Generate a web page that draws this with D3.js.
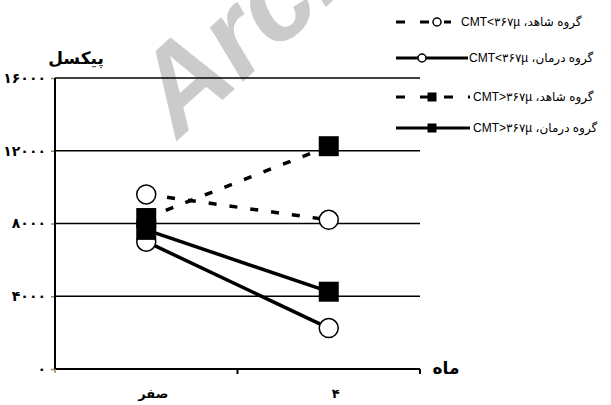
<!DOCTYPE html>
<html>
<head>
<meta charset="utf-8">
<script src="https://cdn.jsdelivr.net/npm/d3@7"></script>
<style>
  html, body { margin: 0; padding: 0; background: #fff; }
  svg { display: block; }
  .fa { font-family: "DejaVu Sans", sans-serif; }
  .legend text { font-family: "Liberation Sans", "DejaVu Sans", sans-serif; font-size: 12px; }
</style>
</head>
<body>
<svg id="chart" width="611" height="405"></svg>
<script>
// data
var months = ["صفر", "۴"];
var yTicks = [0, 4000, 8000, 12000, 16000];
var yTickLabels = ["۰", "۴۰۰۰", "۸۰۰۰", "۱۲۰۰۰", "۱۶۰۰۰"];
var seriesNames = ["گروه شاهد، CMT<۳۶۷µ", "گروه درمان، CMT<۳۶۷µ", "گروه شاهد، CMT>۳۶۷µ", "گروه درمان، CMT>۳۶۷µ"];
var controlLow = [9600, 8200];     // circle, dashed
var treatLow = [7000, 2250];       // circle, solid
var controlHigh = [8300, 12250];   // square, dashed
var treatHigh = [7650, 4250];      // square, solid

var series = [
  { name: seriesNames[0], values: controlLow, marker: "circle", dashed: true },
  { name: seriesNames[1], values: treatLow, marker: "circle", dashed: false },
  { name: seriesNames[2], values: controlHigh, marker: "square", dashed: true },
  { name: seriesNames[3], values: treatHigh, marker: "square", dashed: false }
];

var svg = d3.select("#chart");
var pLeft = 55, pRight = 420, pTop = 78, pBottom = 369;

var x = d3.scaleBand().domain(months).range([pLeft, pRight]);
var y = d3.scaleLinear().domain([0, 16000]).range([pBottom, pTop]);

// watermark
svg.append("text")
  .attr("transform", "translate(178,140) rotate(-42)")
  .attr("font-family", "Liberation Sans, sans-serif")
  .attr("font-weight", "bold")
  .attr("font-style", "italic")
  .attr("font-size", 118)
  .attr("fill", "#cbcbcb")
  .text("Archive");

// grid lines
svg.append("g").selectAll("line")
  .data(yTicks.slice(1))
  .enter().append("line")
  .attr("x1", pLeft).attr("x2", pRight)
  .attr("y1", function (d) { return y(d); })
  .attr("y2", function (d) { return y(d); })
  .attr("stroke", "#000")
  .attr("stroke-width", 1.5);

// y axis
var yAxis = svg.append("g")
  .attr("transform", "translate(" + pLeft + ",0)")
  .call(d3.axisLeft(y).tickValues(yTicks).tickSize(4).tickPadding(5)
    .tickFormat(function (d, i) { return yTickLabels[i]; }));
yAxis.select(".domain").remove();
yAxis.selectAll(".tick line").attr("stroke", "#a0865a").attr("stroke-width", 1.5);
yAxis.selectAll("text")
  .attr("class", "fa")
  .attr("font-size", 14)
  .attr("font-weight", "bold")
  .attr("fill", "#000");

// x axis
var xAxis = svg.append("g")
  .attr("transform", "translate(0," + pBottom + ")")
  .call(d3.axisBottom(x).tickSize(0).tickPadding(20));
xAxis.select(".domain").remove();
xAxis.selectAll("text")
  .attr("class", "fa")
  .attr("dx", 7)
  .attr("font-size", 13)
  .attr("font-weight", "bold")
  .attr("fill", "#000");

// axis lines
svg.append("line")
  .attr("x1", pLeft).attr("x2", pLeft).attr("y1", pTop).attr("y2", pBottom)
  .attr("stroke", "#000").attr("stroke-width", 2);
svg.append("line")
  .attr("x1", pLeft).attr("x2", pRight).attr("y1", pBottom).attr("y2", pBottom)
  .attr("stroke", "#000").attr("stroke-width", 2);
svg.append("g").selectAll("line")
  .data([pLeft + x.bandwidth(), pRight])
  .enter().append("line")
  .attr("x1", function (d) { return d; }).attr("x2", function (d) { return d; })
  .attr("y1", pBottom).attr("y2", pBottom + 5)
  .attr("stroke", "#000").attr("stroke-width", 2);
svg.append("line")
  .attr("x1", pLeft).attr("x2", pLeft).attr("y1", pBottom).attr("y2", pBottom + 4)
  .attr("stroke", "#a0865a").attr("stroke-width", 1.5);

// axis titles
svg.append("text")
  .attr("class", "fa")
  .attr("x", 76).attr("y", 64)
  .attr("text-anchor", "middle")
  .attr("font-size", 17)
  .attr("font-weight", "bold")
  .text("پیکسل");
svg.append("text")
  .attr("class", "fa")
  .attr("x", 446).attr("y", 374)
  .attr("text-anchor", "middle")
  .attr("font-size", 17)
  .attr("font-weight", "bold")
  .text("ماه");

// lines
var cx = function (i) { return x(months[i]) + x.bandwidth() / 2; };
var line = d3.line()
  .x(function (d, i) { return cx(i); })
  .y(function (d) { return y(d); });

svg.append("g").selectAll("path")
  .data(series)
  .enter().append("path")
  .attr("d", function (d) { return line(d.values); })
  .attr("fill", "none")
  .attr("stroke", "#000")
  .attr("stroke-width", 3.5)
  .attr("stroke-dasharray", function (d) { return d.dashed ? "8,13" : null; });

// markers: circles first, squares on top
var flat = [];
series.forEach(function (s) {
  s.values.forEach(function (v, i) { flat.push({ s: s, v: v, i: i }); });
});
svg.append("g").selectAll("circle")
  .data(flat.filter(function (d) { return d.s.marker === "circle"; }))
  .enter().append("circle")
  .attr("cx", function (d) { return cx(d.i); })
  .attr("cy", function (d) { return y(d.v); })
  .attr("r", 9.5)
  .attr("fill", "#fff")
  .attr("stroke", "#000")
  .attr("stroke-width", 1.5);
svg.append("g").selectAll("rect")
  .data(flat.filter(function (d) { return d.s.marker === "square"; }))
  .enter().append("rect")
  .attr("x", function (d) { return cx(d.i) - 10; })
  .attr("y", function (d) { return y(d.v) - 10; })
  .attr("width", 20).attr("height", 20)
  .attr("fill", "#000");

// legend
var legendRows = [
  { y: 22, x1: 396, x2: 451, mx: 437, tx: 461 },
  { y: 58, x1: 396, x2: 468, mx: 422, tx: 469 },
  { y: 97, x1: 396, x2: 470, mx: 432, tx: 473 },
  { y: 128, x1: 396, x2: 470, mx: 432, tx: 473 }
];
var lg = svg.append("g").attr("class", "legend");
series.forEach(function (s, i) {
  var r = legendRows[i];
  lg.append("line")
    .attr("x1", r.x1).attr("x2", r.x2).attr("y1", r.y).attr("y2", r.y)
    .attr("stroke", "#000").attr("stroke-width", 3)
    .attr("stroke-dasharray", s.dashed ? "9,15" : null);
  if (s.marker === "circle") {
    lg.append("circle").attr("cx", r.mx).attr("cy", r.y).attr("r", 4)
      .attr("fill", "#fff").attr("stroke", "#000").attr("stroke-width", 1.5);
  } else {
    lg.append("rect").attr("x", r.mx - 4.5).attr("y", r.y - 4.5)
      .attr("width", 9).attr("height", 9).attr("fill", "#000");
  }
  lg.append("text")
    .attr("x", r.tx).attr("y", r.y + 4)
    .attr("direction", "rtl")
    .attr("text-anchor", "end")
    .text(s.name);
});
</script>
</body>
</html>
